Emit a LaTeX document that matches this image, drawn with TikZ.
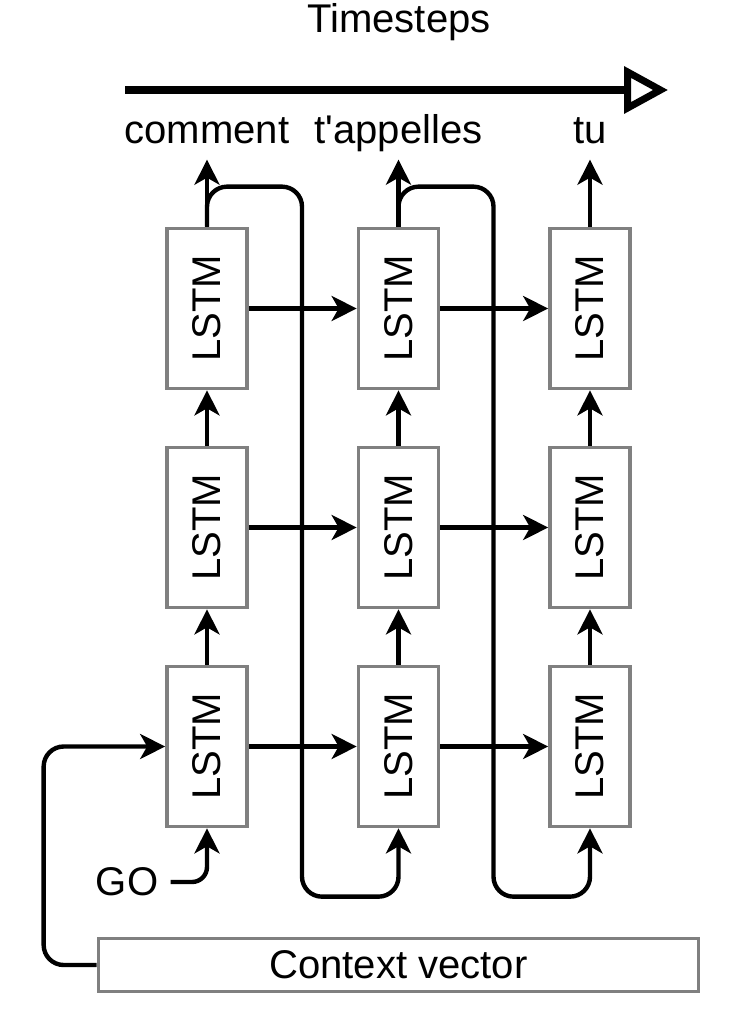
\documentclass[tikz,border=0pt]{standalone}
\usepackage{fontspec}
\setmainfont{Liberation Sans}
\usetikzlibrary{arrows.meta}
\def\colsep{1.915}
\def\rowsep{2.19}

\begin{document}
\begin{tikzpicture}[>={Stealth[length=0.25cm,width=0.25cm,inset=0.07cm]}, font=\fontsize{11.4}{13.7}\selectfont]
    \tikzstyle{flow}=[->,line width=1.25pt,draw=black]
    \tikzstyle{cell}=[draw=black!50,line width=1.05pt,fill=white,inner sep=0pt]
    \tikzstyle{lstm}=[cell, minimum width=0.80cm, minimum height=1.60cm]
    \tikzstyle{word}=[anchor=base]
    \tikzstyle{time}=[-{Triangle[open,length=0.44cm,width=0.46cm]},line width=2pt]

    \useasboundingbox (0,0) rectangle (7.44,-10.19);

    % Time axis
    \node[word] (ts) at (3.99,-0.33) {Timesteps};
    \coordinate (t-start) at (1.25,-0.90);
    \coordinate (t-end) at (6.68,-0.90);
    \draw[time] (t-start) -- (t-end);

    % Draw the LSTM cells
    \foreach \i in {1,...,3}
        \foreach \j in {1,...,3}
            \node[lstm] (L-\i-\j) at ({2.07+(\i-1)*\colsep},{-7.465+(\j-1)*\rowsep}) {\rotatebox{90}{LSTM}};

    % Connect the cells in time
    \foreach \i/\n in {1/2,2/3}
        \foreach \j in {1,...,3}
            \draw[flow] (L-\i-\j.east) -- (L-\n-\j.west);

    % Connect the cells in depth
    \foreach \i in {1,...,3}
        \foreach \j/\n in {1/2,2/3}
            \draw[flow] (L-\i-\j.north) -- (L-\i-\n.south);

    % Output words
    \foreach \i/\w in {1/comment,2/{t\textquotesingle appelles},3/tu}
    {
        \path (L-\i-3.north) ++(0,0.67) coordinate (o-\i);
        \draw[flow] (L-\i-3.north) -- (o-\i);
        \node[word] (w-\i) at ({2.07+(\i-1)*\colsep},-1.43) {\w};
    }

    % Feed each output back into the next step
    \foreach \i/\n in {1/2,2/3}
        \draw[flow,rounded corners=0.2cm] (L-\i-3.north) |- ++(0.95,0.40) -- ++(0,-7.10) -| (L-\n-1.south);

    % Start token
    \node (go) at (1.27,-8.82) {GO};
    \draw[flow,rounded corners=0.15cm] (go.east) -| (L-1-1.south);

    % Context vector
    \node[cell,minimum width=6.00cm,minimum height=0.53cm] (ctx) at (3.985,-9.65) {Context vector};
    \draw[flow,rounded corners=0.2cm] (ctx.west) -- ++(-0.53,0) |- (L-1-1.west);
\end{tikzpicture}
\end{document}
